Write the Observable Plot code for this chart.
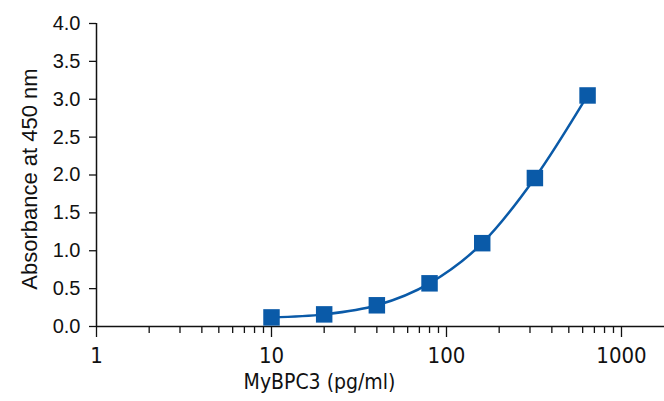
<!DOCTYPE html>
<html>
<head>
<meta charset="utf-8">
<script src="https://cdn.jsdelivr.net/npm/d3@7"></script>
<script src="https://cdn.jsdelivr.net/npm/@observablehq/plot@0.6"></script>
<style>
  html, body { margin: 0; padding: 0; background: #fff; }
  #chart svg { display: block; }
</style>
</head>
<body>
<div id="chart"></div>
<script>
const concentrations = [10, 20, 40, 80, 160, 320, 640];
const absorbance = [0.12, 0.16, 0.28, 0.57, 1.10, 1.96, 3.05];
const xMajorTicks = [1, 10, 100, 1000];
const xMinorTicks = [2, 3, 4, 5, 6, 7, 8, 9, 20, 30, 40, 50, 60, 70, 80, 90, 200, 300, 400, 500, 600, 700, 800, 900];
const yTicks = [0, 0.5, 1.0, 1.5, 2.0, 2.5, 3.0, 3.5, 4.0];
const xTitle = "MyBPC3 (pg/ml)";
const yTitle = "Absorbance at 450 nm";

const data = concentrations.map((c, i) => ({c, a: absorbance[i]}));
const blue = "#0a5aa8";
const narrow = "'Liberation Sans Narrow', 'DejaVu Sans Condensed', 'Roboto Condensed', sans-serif";
const sans = "'Liberation Sans', Arial, sans-serif";

const chart = Plot.plot({
  width: 664,
  height: 401,
  marginLeft: 96,
  marginRight: 0,
  marginTop: 23,
  marginBottom: 75,
  style: {background: "#fff", color: "#111", fontFamily: sans},
  x: {type: "log", domain: [1, 1761]},
  y: {domain: [0, 4]},
  marks: [
    Plot.axisY({ticks: yTicks, tickSize: 7, tickPadding: 9, tickFormat: d3.format(".1f"), fontSize: 20, fontFamily: sans, label: null, strokeWidth: 1.3}),
    Plot.axisX({ticks: xMinorTicks, tickSize: 7, tickFormat: () => "", label: null, strokeWidth: 1.3}),
    Plot.axisX({ticks: xMajorTicks, tickSize: 11, tickPadding: 10, tickFormat: d3.format("d"), fontSize: 22, fontFamily: narrow, label: null, strokeWidth: 1.3}),
    Plot.ruleY([0], {stroke: "#111", strokeWidth: 1.5}),
    Plot.ruleX([1], {y1: 0, y2: 4, stroke: "#111", strokeWidth: 1.5}),
    Plot.line(data, {x: "c", y: "a", curve: "monotone-x", stroke: blue, strokeWidth: 2.5}),
    Plot.dot(data, {x: "c", y: "a", symbol: "square", r: 9.3, fill: blue, stroke: null}),
    Plot.text([xTitle], {frameAnchor: "bottom-left", dx: 223, dy: 62, text: d => d, fontSize: 21, fontFamily: narrow, textAnchor: "middle", fill: "#111"}),
    Plot.text([yTitle], {frameAnchor: "left", dx: -67, dy: 4, rotate: -90, text: d => d, fontSize: 22, fontFamily: sans, textAnchor: "middle", fill: "#111"})
  ]
});
document.getElementById("chart").appendChild(chart);
</script>
</body>
</html>
